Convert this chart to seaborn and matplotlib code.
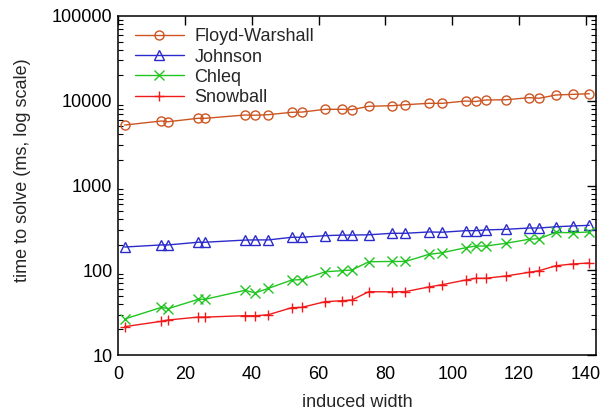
import matplotlib
matplotlib.use("Agg")
import matplotlib.pyplot as plt
import matplotlib.ticker as mticker
import numpy as np
import pandas as pd
import seaborn as sns

# induced width of each benchmark instance
induced_width = [2, 13, 15, 24, 26, 38, 41, 45, 52, 55, 62, 67, 70, 75, 82, 86,
                 93, 97, 104, 107, 110, 116, 123, 126, 131, 136, 141]

# time to solve, milliseconds
floyd_warshall = [5170, 5770, 5660, 6210, 6200, 6790, 6740, 6850, 7310, 7350,
                  7930, 7930, 7850, 8600, 8750, 8980, 9330, 9330, 9930, 9800,
                  10210, 10270, 10870, 10700, 11690, 11900, 12100]
johnson = [188, 199, 199, 214, 214, 227, 228, 228, 245, 245, 256, 260, 260, 262,
           273, 273, 283, 281, 293, 293, 299, 304, 315, 315, 326, 333, 339]
chleq = [26.6, 36.5, 35.2, 45.4, 45.4, 58, 54, 61.2, 76.7, 77.5, 96, 98.8, 100.7,
         126, 127, 127, 154, 161, 184.5, 193, 193, 208, 232, 236, 280, 277, 283]
snowball = [21.6, 25, 25.9, 28, 28, 29.1, 29, 29.9, 36.2, 36.5, 42.6, 43.7, 44.6,
            55.8, 55.6, 56, 63.5, 67.6, 76.7, 80.4, 80.4, 85.5, 94.6, 98.8, 113,
            118.6, 121.9]

series_names = ["Floyd-Warshall", "Johnson", "Chleq", "Snowball"]
series_values = [floyd_warshall, johnson, chleq, snowball]
colors = ["#cc5522", "#2b2bcc", "#22c422", "#f01a1a"]
markers = ["o", "^", "x", "+"]
marker_sizes = [6.5, 6.5, 6.5, 7.5]

sns.set_theme(style="white")
plt.rcParams["font.family"] = ["Liberation Sans", "DejaVu Sans"]
FS = 13

fig = plt.figure(figsize=(6.07, 4.13), dpi=100)
ax = fig.add_axes([118 / 607, 58 / 413, 478 / 607, 339 / 413])

for name, vals, col, mk, ms in zip(series_names, series_values, colors, markers, marker_sizes):
    df = pd.DataFrame({"induced width": induced_width, "time": vals})
    sns.lineplot(data=df, x="induced width", y="time", ax=ax, color=col,
                 marker=mk, markersize=ms, markerfacecolor="none",
                 markeredgecolor=col, markeredgewidth=1.0, linewidth=1.0,
                 estimator=None, sort=False, label=name)

ax.set_yscale("log")
ax.set_xlim(0, 143)
ax.set_ylim(10, 100000)
ax.set_xticks([0, 20, 40, 60, 80, 100, 120, 140])
ax.yaxis.set_major_locator(mticker.LogLocator(base=10, numticks=10))
ax.yaxis.set_major_formatter(mticker.FuncFormatter(lambda v, p: f"{int(round(v))}"))
ax.yaxis.set_minor_locator(mticker.LogLocator(base=10, subs=np.arange(2, 10), numticks=20))
ax.yaxis.set_minor_formatter(mticker.NullFormatter())

ax.tick_params(axis="both", which="major", direction="in", length=6.5, width=1.0,
               top=True, right=True, labelsize=FS, color="black", labelcolor="black")
ax.tick_params(axis="x", which="major", pad=8)
ax.tick_params(axis="y", which="major", pad=4)
ax.tick_params(axis="y", which="minor", direction="in", length=3.5, width=0.8,
               left=True, right=True, color="black")
for sp in ax.spines.values():
    sp.set_color("black")
    sp.set_linewidth(1.1)

ax.set_xlabel("induced width", fontsize=FS, labelpad=8)
ax.set_ylabel("time to solve (ms, log scale)", fontsize=FS)
ax.yaxis.set_label_coords(-0.183, 0.545)

leg = ax.legend(loc="upper left", bbox_to_anchor=(0.02, 0.985), frameon=False,
                fontsize=FS, handlelength=2.7, handletextpad=0.6,
                labelspacing=0.18, borderaxespad=0.0)

fig.savefig("out.png", dpi=100)
